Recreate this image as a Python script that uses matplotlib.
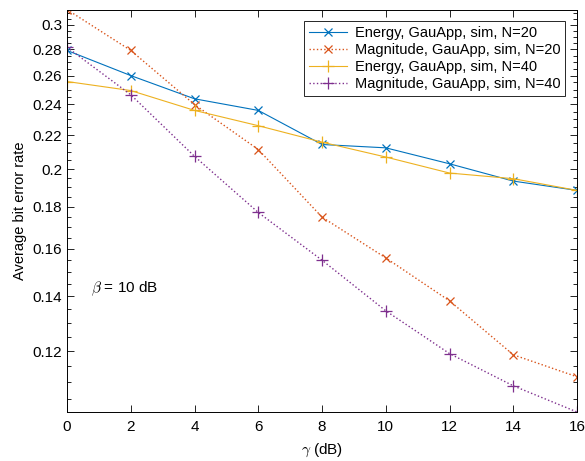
import numpy as np
import matplotlib.pyplot as plt
from matplotlib.ticker import FixedLocator, MultipleLocator, NullFormatter

plt.rcParams['font.family'] = ['Liberation Sans', 'DejaVu Sans']
plt.rcParams['mathtext.fontset'] = 'cm'

# SNR grid (dB)
gamma_db = [0, 2, 4, 6, 8, 10, 12, 14, 16]

# simulated BER curves
ber_energy_n20 = [0.279, 0.260, 0.2436, 0.2358, 0.2143, 0.2123, 0.2030, 0.1934, 0.1884]
ber_magnitude_n20 = [0.3129, 0.279, 0.2397, 0.2113, 0.1748, 0.1559, 0.1382, 0.1188, 0.1117]
ber_energy_n40 = [0.2557, 0.2493, 0.2358, 0.2259, 0.2157, 0.2069, 0.1978, 0.1947, 0.1884]
ber_magnitude_n40 = [0.2815, 0.2464, 0.2073, 0.1771, 0.1549, 0.1344, 0.1192, 0.1089, 0.1012]

ytick_vals = [0.12, 0.14, 0.16, 0.18, 0.2, 0.22, 0.24, 0.26, 0.28, 0.3]
ytick_text = ['0.12', '0.14', '0.16', '0.18', '0.2', '0.22', '0.24', '0.26', '0.28', '0.3']

fig = plt.figure(figsize=(5.85, 4.61), dpi=100)
ax = fig.add_axes([0.1145, 0.1063, 0.872, 0.873])

ax.plot(gamma_db, ber_energy_n20, '-x', color='#0072BD', lw=0.8, ms=6, mew=0.9,
        label='Energy, GauApp, sim, N=20')
ax.plot(gamma_db, ber_magnitude_n20, ':x', color='#D95319', lw=1.0, ms=6, mew=0.9,
        label='Magnitude, GauApp, sim, N=20')
ax.plot(gamma_db, ber_energy_n40, '-+', color='#EDB120', lw=0.8, ms=8, mew=0.9,
        label='Energy, GauApp, sim, N=40')
ax.plot(gamma_db, ber_magnitude_n40, ':+', color='#7E2F8E', lw=1.0, ms=8, mew=0.9,
        label='Magnitude, GauApp, sim, N=40')

ax.set_yscale('log')
ax.set_xlim(0, 16)
ax.set_ylim(min(ber_magnitude_n40), max(ber_magnitude_n20))
ax.yaxis.set_major_locator(FixedLocator(ytick_vals))
ax.set_yticklabels(ytick_text)
ax.yaxis.set_minor_locator(MultipleLocator(0.005))
ax.yaxis.set_minor_formatter(NullFormatter())
ax.set_xticks(np.arange(0, 17, 2))

ax.tick_params(which='both', direction='in', top=True, right=True, labelsize=11, width=0.6)
ax.tick_params(which='major', length=5)
ax.tick_params(which='minor', length=3)
ax.tick_params(axis='x', pad=6)
for s in ax.spines.values():
    s.set_linewidth(0.7)

ax.set_xlabel(r'$\gamma$ (dB)', fontsize=11, labelpad=5)
ax.set_ylabel('Average bit error rate', fontsize=10.5, labelpad=4)
ax.text(0.75, 0.1415, r'$\beta$ = 10 dB', fontsize=11)

leg = ax.legend(loc='upper right', fontsize=10.5, fancybox=False, framealpha=1,
                edgecolor='#262626', borderaxespad=0.8, handlelength=2.6,
                labelspacing=0.2, borderpad=0.35, handletextpad=0.5)
leg.get_frame().set_linewidth(0.7)

fig.savefig('out.png', dpi=100)
